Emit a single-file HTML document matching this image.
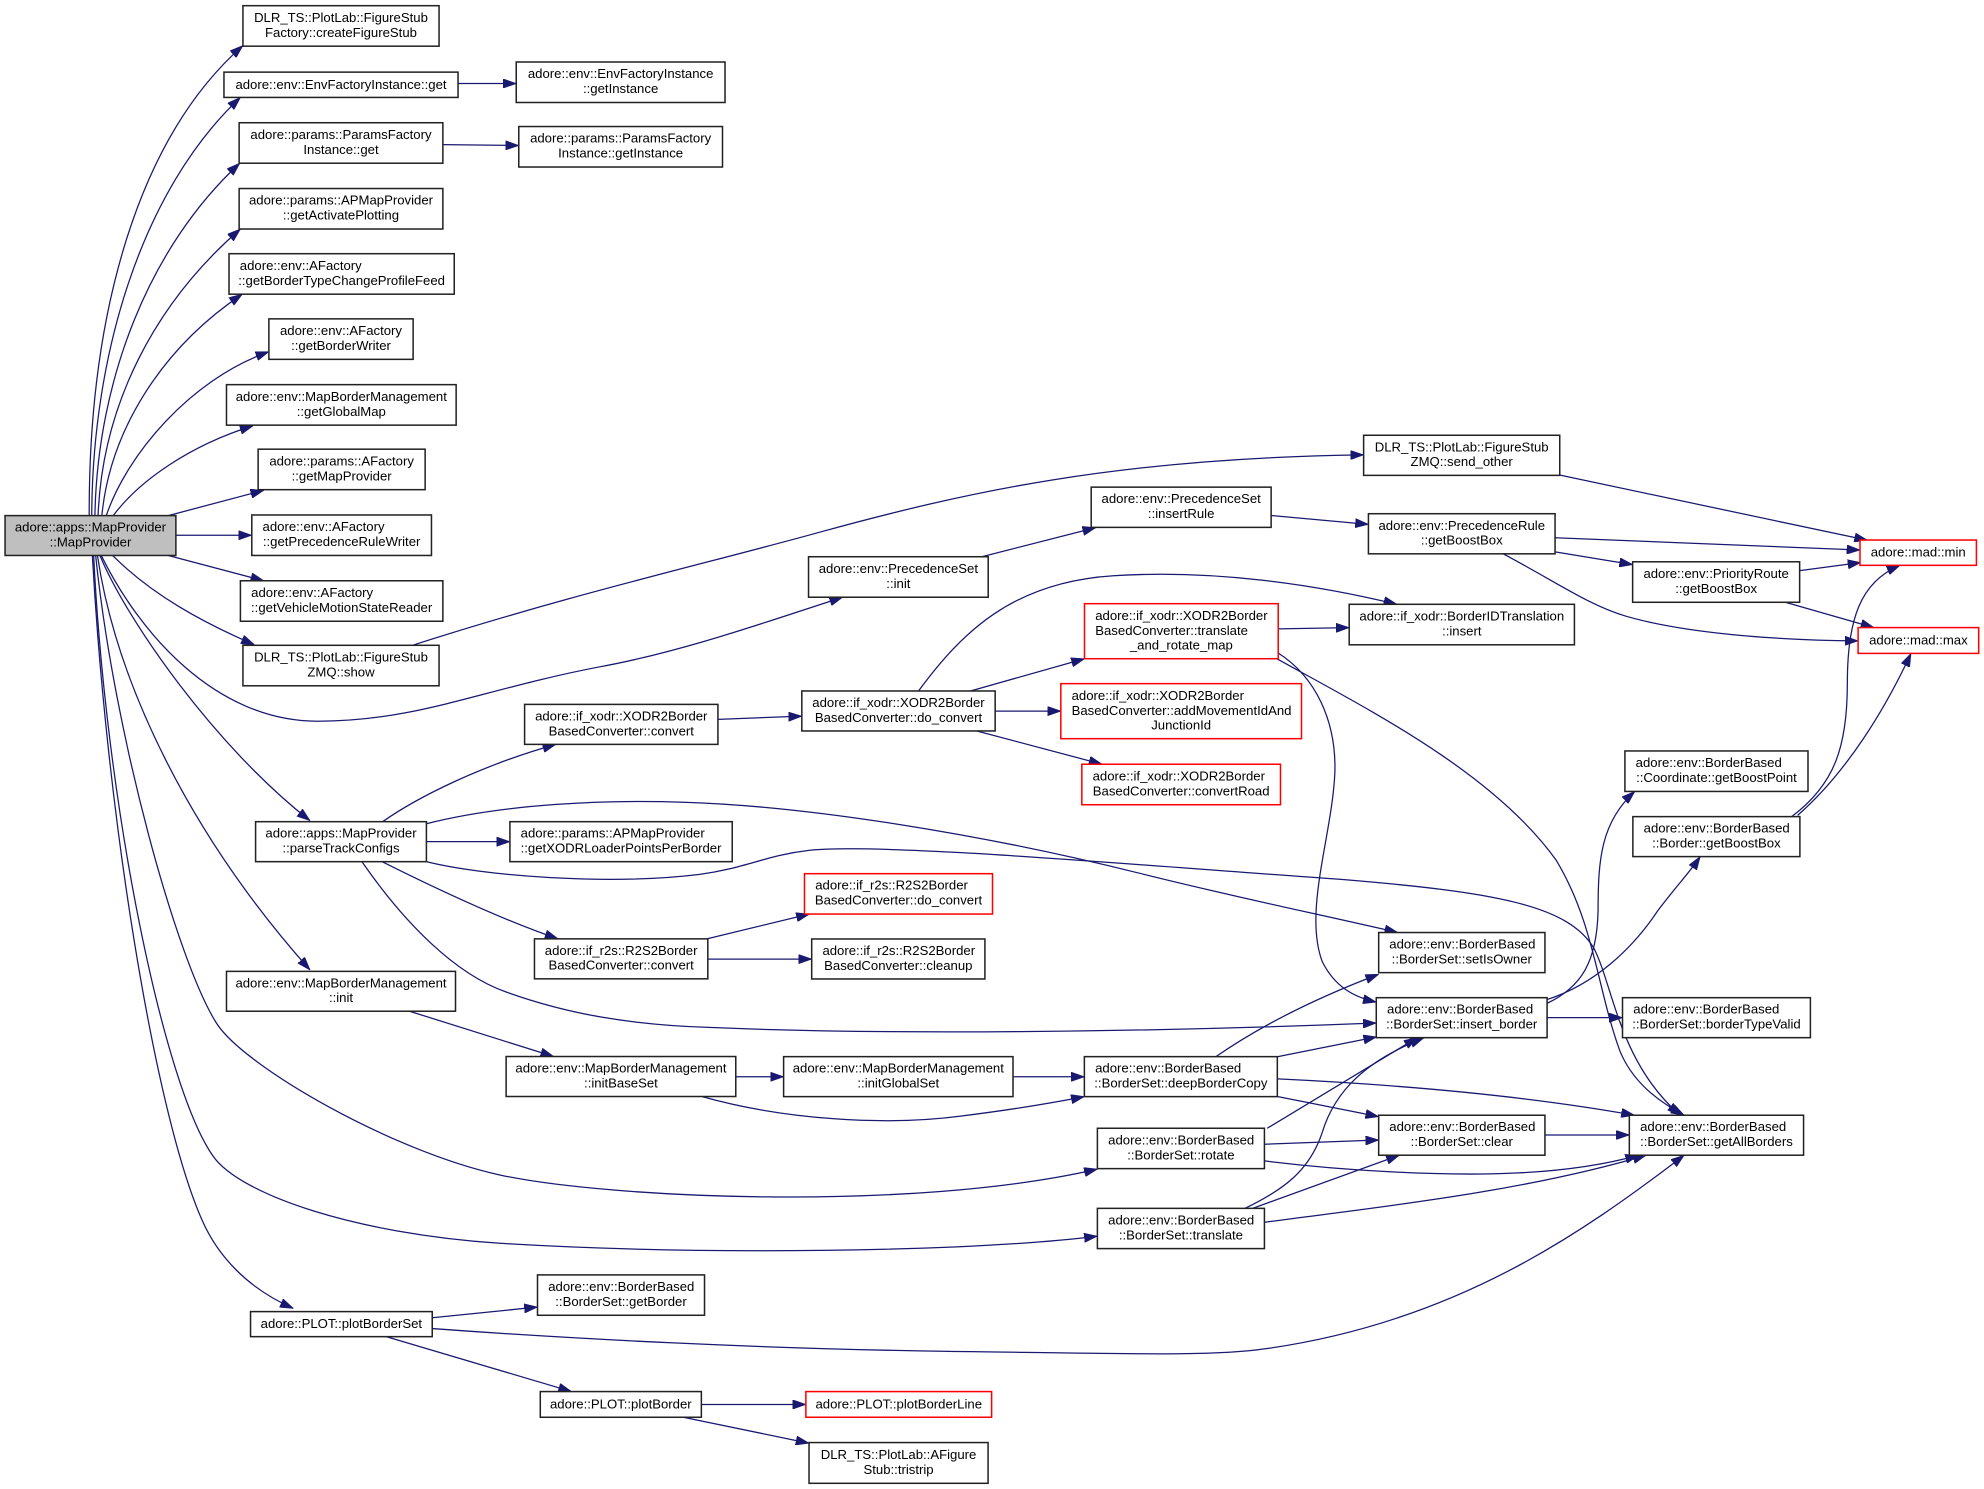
<!DOCTYPE html>
<html>
<head>
<meta charset="utf-8">
<style>
html,body{margin:0;padding:0;background:#fff;}
svg{display:block;}
.n{fill:#fff;stroke:#222;stroke-width:1.2;}
.r{fill:#fff;stroke:#ff0000;stroke-width:1.2;}
.g{fill:#bfbfbf;stroke:#222;stroke-width:1.2;}
text{font-family:"Liberation Sans",Arial,sans-serif;font-size:10.4px;fill:#000;}
.c{text-anchor:middle;}
.l{text-anchor:start;}
.e{fill:none;stroke:#191970;stroke-width:1;marker-end:url(#a);}
</style>
</head>
<body>
<svg width="1984" height="1489" viewBox="0 0 1568 1176.8" preserveAspectRatio="none" xmlns="http://www.w3.org/2000/svg">
<defs>
<marker id="a" viewBox="0 0 10 7" refX="10" refY="3.5" markerWidth="10.5" markerHeight="7.4" markerUnits="userSpaceOnUse" orient="auto">
<path d="M0,0 L10,3.5 L0,7 z" fill="#191970" stroke="#191970" stroke-width="0.5"/>
</marker>
</defs>

<!-- edges -->
<path class="e" d="M70.5,407.5 C70,250 108,110 192,36"/>
<path class="e" d="M72.5,407.5 C73,280 112,150 190,77"/>
<path class="e" d="M75,407.5 C77,300 118,195 189.5,129"/>
<path class="e" d="M77.5,407.5 C81,320 122,240 190,181"/>
<path class="e" d="M80.5,407.5 C87,340 128,275 191.5,232.5"/>
<path class="e" d="M84,407.5 C100,360 150,300 212.5,278"/>
<path class="e" d="M89.5,407.5 C110,380 150,352 200,336.5"/>
<path class="e" d="M133,407.5 L208.5,387.5"/>
<path class="e" d="M139,423 L199,423"/>
<path class="e" d="M133,439 L208.5,459"/>
<path class="e" d="M89,439 C120,470 160,492 201,509.5"/>
<path class="e" d="M80,439 C110,500 170,570 251,570 C330,570 380,545 474,527 C540,515 610,490 666,472"/>
<path class="e" d="M79,439 C100,490 170,590 245,648.6"/>
<path class="e" d="M77,439 C92,540 150,660 245,766.6"/>
<path class="e" d="M75.6,439 C90,580 140,760 171.2,808.8 C193,843 310,910 395,928.6 C480,947 720,958 867.3,924"/>
<path class="e" d="M74,439 C84,640 130,860 168.6,914 C190,944 280,975 395,982.6 C550,992 760,990 867.3,977"/>
<path class="e" d="M73,439 C84,640 122,880 160,965 C172,992 195,1018 231.8,1034"/>

<path class="e" d="M362,66 L408,66"/>
<path class="e" d="M350,114.3 L410,115"/>
<path class="e" d="M326,510 C450,470 560,445 650,420 C760,390 880,362 1077.7,359.5"/>
<path class="e" d="M1233,375.5 L1476,427"/>
<path class="e" d="M776,440 L866,417"/>
<path class="e" d="M1004.6,407.4 L1081.5,414.4"/>
<path class="e" d="M1229,425 L1470,434.7"/>
<path class="e" d="M1229,436.2 L1290.3,446.2"/>
<path class="e" d="M1188,437.7 C1230,460 1255,478 1285,487 C1330,500 1400,506 1468.5,506.5"/>
<path class="e" d="M1422.4,451 L1470.8,444.6"/>
<path class="e" d="M1411,476 L1481,496"/>
<path class="e" d="M726,546 C760,500 800,460 880,455 C960,450 1040,462 1104,477.6"/>
<path class="e" d="M1010.2,497 L1066.3,496"/>
<path class="e" d="M1010,516 C1040,535 1056,570 1055,610 C1053,660 1030,720 1045,760 C1055,780 1070,788 1087.7,792"/>
<path class="e" d="M1008,520 C1080,560 1180,610 1230,680 C1260,730 1262,780 1280,830 C1290,855 1310,870 1331,881.4"/>
<path class="e" d="M767,546.1 L857.1,520.6"/>
<path class="e" d="M786.5,562 L838.4,562"/>
<path class="e" d="M772,577.7 L871,604"/>
<path class="e" d="M567.4,568.5 L633.7,566"/>
<path class="e" d="M302.4,649.4 C330,630 380,605 439.3,588.3"/>
<path class="e" d="M337,665.2 L403,665.2"/>
<path class="e" d="M302,681 C350,705 400,728 441,742"/>
<path class="e" d="M337,651 C400,635 480,632 540,634 C640,637 780,660 900,690 C980,710 1040,722 1104.7,737"/>
<path class="e" d="M337,681 C380,692 480,700 553,691 C590,686 605,676 640,672 C700,666 900,684 1060,695 C1180,705 1240,715 1260,750 C1275,780 1280,840 1328,881.4"/>
<path class="e" d="M286,681 C320,730 360,770 400,784 C450,802 500,810 560,812 C700,818 900,816 1087.7,808.5"/>
<path class="e" d="M323,799 L437.6,835"/>
<path class="e" d="M581.5,851 L619.3,851"/>
<path class="e" d="M555,866.7 C620,885 700,890 760,882 C800,877 830,872 857,866.7"/>
<path class="e" d="M800.6,851 L857,851"/>
<path class="e" d="M961,835.1 C1000,808 1045,787 1089.6,770"/>
<path class="e" d="M1010,835.1 L1088,819.5"/>
<path class="e" d="M1010,866.7 L1089.6,882.5"/>
<path class="e" d="M1010,852.7 C1100,857 1200,865 1291.8,881.4"/>
<path class="e" d="M1001.5,891.7 L1120,820.1"/>
<path class="e" d="M999.3,904.3 L1089.6,901"/>
<path class="e" d="M999.3,917.5 C1060,925 1140,930 1200,927 C1240,925 1270,920 1295,913"/>
<path class="e" d="M984,955 C1015,940 1035,925 1045,895 C1055,862 1080,838 1125,820.5"/>
<path class="e" d="M990,955 L1106,913"/>
<path class="e" d="M999.3,966 C1080,955 1200,943 1301,913"/>
<path class="e" d="M1221,897 L1287.7,897"/>
<path class="e" d="M1222.6,793 C1250,780 1262,760 1263,720 C1263,680 1265,650 1292,625.5"/>
<path class="e" d="M1222.6,790 C1260,778 1290,750 1310,720 C1325,700 1335,690 1343.7,677"/>
<path class="e" d="M1222.6,804.3 L1282.3,804.3"/>
<path class="e" d="M1416,645.4 C1450,620 1460,590 1460,540 C1460,490 1470,460 1501.6,446.8"/>
<path class="e" d="M1420.7,644.4 C1460,610 1490,560 1510.3,516.4"/>
<path class="e" d="M558.6,742 L639.7,722.4"/>
<path class="e" d="M559.4,758 L641.5,758"/>
<path class="e" d="M341.6,1041.5 L424.8,1033"/>
<path class="e" d="M341.6,1050 C450,1058 600,1066 750,1068 C900,1070 960,1072 1000,1066 C1150,1045 1250,975 1331,913"/>
<path class="e" d="M305.2,1056.4 L451.7,1099.8"/>
<path class="e" d="M554.3,1110 L636.9,1110"/>
<path class="e" d="M540,1120.1 L639.4,1140.6"/>

<!-- nodes -->
<rect class="n" x="192" y="4.5" width="155" height="32"/>
<text class="c" x="269.5" y="17.3">DLR_TS::PlotLab::FigureStub</text>
<text class="c" x="269.5" y="29.1">Factory::createFigureStub</text>

<rect class="n" x="177" y="57" width="185" height="20"/>
<text class="c" x="269.5" y="70.2">adore::env::EnvFactoryInstance::get</text>

<rect class="n" x="408" y="49" width="165" height="32"/>
<text class="c" x="490.5" y="61.8">adore::env::EnvFactoryInstance</text>
<text class="c" x="490.5" y="73.6">::getInstance</text>

<rect class="n" x="189" y="97" width="161" height="32"/>
<text class="c" x="269.5" y="109.8">adore::params::ParamsFactory</text>
<text class="c" x="269.5" y="121.6">Instance::get</text>

<rect class="n" x="410" y="100" width="161" height="32"/>
<text class="c" x="490.5" y="112.8">adore::params::ParamsFactory</text>
<text class="c" x="490.5" y="124.6">Instance::getInstance</text>

<rect class="n" x="189" y="149" width="161" height="32"/>
<text class="c" x="269.5" y="161.8">adore::params::APMapProvider</text>
<text class="c" x="269.5" y="173.6">::getActivatePlotting</text>

<rect class="n" x="181" y="200.5" width="178" height="32"/>
<text class="l" x="189.5" y="213.3">adore::env::AFactory</text>
<text class="c" x="270" y="225.1">::getBorderTypeChangeProfileFeed</text>

<rect class="n" x="212.5" y="252" width="114" height="32"/>
<text class="c" x="269.5" y="264.8">adore::env::AFactory</text>
<text class="c" x="269.5" y="276.6">::getBorderWriter</text>

<rect class="n" x="179" y="304" width="181.5" height="32"/>
<text class="c" x="269.75" y="316.8">adore::env::MapBorderManagement</text>
<text class="c" x="269.75" y="328.6">::getGlobalMap</text>

<rect class="n" x="204" y="355" width="132" height="32"/>
<text class="c" x="270" y="367.8">adore::params::AFactory</text>
<text class="c" x="270" y="379.6">::getMapProvider</text>

<rect class="g" x="4" y="407.5" width="135" height="31.5"/>
<text class="c" x="71.5" y="420">adore::apps::MapProvider</text>
<text class="c" x="71.5" y="431.9">::MapProvider</text>

<rect class="n" x="199" y="407" width="142" height="32"/>
<text class="l" x="207.5" y="419.8">adore::env::AFactory</text>
<text class="c" x="270" y="431.6">::getPrecedenceRuleWriter</text>

<rect class="n" x="190" y="459" width="160" height="32"/>
<text class="l" x="198.5" y="471.8">adore::env::AFactory</text>
<text class="c" x="270" y="483.6">::getVehicleMotionStateReader</text>

<rect class="n" x="192" y="510" width="155" height="32"/>
<text class="c" x="269.5" y="522.8">DLR_TS::PlotLab::FigureStub</text>
<text class="c" x="269.5" y="534.6">ZMQ::show</text>

<rect class="n" x="414.6" y="556.7" width="152.8" height="31.6"/>
<text class="c" x="491" y="569.3">adore::if_xodr::XODR2Border</text>
<text class="c" x="491" y="581.1">BasedConverter::convert</text>

<rect class="n" x="202" y="649.4" width="135" height="31.6"/>
<text class="c" x="269.5" y="662">adore::apps::MapProvider</text>
<text class="c" x="269.5" y="673.8">::parseTrackConfigs</text>

<rect class="n" x="403" y="649.4" width="175.7" height="31.6"/>
<text class="l" x="411.5" y="662">adore::params::APMapProvider</text>
<text class="c" x="490.85" y="673.8">::getXODRLoaderPointsPerBorder</text>

<rect class="n" x="422.4" y="742" width="137" height="31.6"/>
<text class="c" x="490.9" y="754.6">adore::if_r2s::R2S2Border</text>
<text class="c" x="490.9" y="766.4">BasedConverter::convert</text>

<rect class="n" x="179" y="767.7" width="181" height="31.5"/>
<text class="c" x="269.5" y="780.3">adore::env::MapBorderManagement</text>
<text class="c" x="269.5" y="792.1">::init</text>

<rect class="n" x="400" y="835" width="181.5" height="31.6"/>
<text class="c" x="490.75" y="847.6">adore::env::MapBorderManagement</text>
<text class="c" x="490.75" y="859.4">::initBaseSet</text>

<rect class="n" x="198" y="1036.6" width="143.6" height="19.8"/>
<text class="c" x="269.8" y="1049.7">adore::PLOT::plotBorderSet</text>

<rect class="n" x="424.8" y="1007.6" width="132" height="31.9"/>
<text class="l" x="433.3" y="1020.4">adore::env::BorderBased</text>
<text class="c" x="490.8" y="1032.2">::BorderSet::getBorder</text>

<rect class="n" x="427" y="1099.8" width="127.3" height="20.3"/>
<text class="c" x="490.65" y="1113.2">adore::PLOT::plotBorder</text>

<rect class="n" x="862.4" y="385" width="142.2" height="31.8"/>
<text class="c" x="933.5" y="397.7">adore::env::PrecedenceSet</text>
<text class="c" x="933.5" y="409.5">::insertRule</text>

<rect class="n" x="639" y="440" width="142" height="32"/>
<text class="c" x="710" y="452.8">adore::env::PrecedenceSet</text>
<text class="c" x="710" y="464.6">::init</text>

<rect class="n" x="1077.7" y="344" width="155" height="31.7"/>
<text class="c" x="1155.2" y="356.7">DLR_TS::PlotLab::FigureStub</text>
<text class="c" x="1155.2" y="368.5">ZMQ::send_other</text>

<rect class="n" x="1081.5" y="406" width="147.5" height="31.7"/>
<text class="c" x="1155.25" y="418.7">adore::env::PrecedenceRule</text>
<text class="c" x="1155.25" y="430.5">::getBoostBox</text>

<rect class="r" x="1470" y="426.8" width="92" height="20"/>
<text class="c" x="1516" y="440">adore::mad::min</text>

<rect class="n" x="1290.3" y="444" width="132" height="32"/>
<text class="c" x="1356.3" y="456.8">adore::env::PriorityRoute</text>
<text class="c" x="1356.3" y="468.6">::getBoostBox</text>

<rect class="n" x="1066.3" y="477.6" width="178" height="32"/>
<text class="c" x="1155.3" y="490.4">adore::if_xodr::BorderIDTranslation</text>
<text class="c" x="1155.3" y="502.2">::insert</text>

<rect class="r" x="1468.5" y="496" width="95.3" height="20.4"/>
<text class="c" x="1516.15" y="509.4">adore::mad::max</text>

<rect class="n" x="1284.2" y="593.5" width="144.7" height="32"/>
<text class="l" x="1292.7" y="606.3">adore::env::BorderBased</text>
<text class="c" x="1356.55" y="618.1">::Coordinate::getBoostPoint</text>

<rect class="n" x="1290.5" y="645.4" width="132" height="31.6"/>
<text class="l" x="1299" y="658">adore::env::BorderBased</text>
<text class="c" x="1356.5" y="669.8">::Border::getBoostBox</text>

<rect class="n" x="1089.6" y="737" width="131.4" height="31.7"/>
<text class="l" x="1098" y="749.7">adore::env::BorderBased</text>
<text class="c" x="1155.3" y="761.5">::BorderSet::setIsOwner</text>

<rect class="n" x="1087.7" y="788.5" width="135" height="31.6"/>
<text class="l" x="1096.2" y="801.1">adore::env::BorderBased</text>
<text class="c" x="1155.2" y="812.9">::BorderSet::insert_border</text>

<rect class="n" x="1282.3" y="788.5" width="148.5" height="31.6"/>
<text class="l" x="1290.8" y="801.1">adore::env::BorderBased</text>
<text class="c" x="1356.55" y="812.9">::BorderSet::borderTypeValid</text>

<rect class="n" x="1089.6" y="881.4" width="131.4" height="31.6"/>
<text class="l" x="1098" y="894">adore::env::BorderBased</text>
<text class="c" x="1155.3" y="905.8">::BorderSet::clear</text>

<rect class="n" x="1287.7" y="881.4" width="137.7" height="31.6"/>
<text class="l" x="1296.2" y="894">adore::env::BorderBased</text>
<text class="c" x="1356.55" y="905.8">::BorderSet::getAllBorders</text>

<rect class="n" x="633.7" y="546.1" width="152.8" height="31.6"/>
<text class="c" x="710.1" y="558.7">adore::if_xodr::XODR2Border</text>
<text class="c" x="710.1" y="570.5">BasedConverter::do_convert</text>

<rect class="r" x="857.1" y="477.1" width="153.1" height="43.5"/>
<text class="l" x="865.6" y="490">adore::if_xodr::XODR2Border</text>
<text class="l" x="865.6" y="501.9">BasedConverter::translate</text>
<text class="c" x="933.65" y="513.5">_and_rotate_map</text>

<rect class="r" x="838.4" y="540.3" width="190.2" height="43.5"/>
<text class="l" x="846.9" y="553.2">adore::if_xodr::XODR2Border</text>
<text class="l" x="846.9" y="565">BasedConverter::addMovementIdAnd</text>
<text class="c" x="933.5" y="576.6">JunctionId</text>

<rect class="r" x="855" y="604" width="157" height="32"/>
<text class="l" x="863.5" y="616.8">adore::if_xodr::XODR2Border</text>
<text class="c" x="933.5" y="628.6">BasedConverter::convertRoad</text>

<rect class="r" x="635.8" y="690.5" width="148.6" height="31.9"/>
<text class="l" x="644.3" y="703.2">adore::if_r2s::R2S2Border</text>
<text class="c" x="710.1" y="715">BasedConverter::do_convert</text>

<rect class="n" x="641.5" y="742.1" width="136.9" height="31.6"/>
<text class="l" x="650" y="754.7">adore::if_r2s::R2S2Border</text>
<text class="c" x="709.95" y="766.5">BasedConverter::cleanup</text>

<rect class="n" x="619.3" y="835.1" width="181.3" height="31.6"/>
<text class="c" x="709.95" y="847.7">adore::env::MapBorderManagement</text>
<text class="c" x="709.95" y="859.5">::initGlobalSet</text>

<rect class="n" x="857" y="835.1" width="152.5" height="31.6"/>
<text class="l" x="865.5" y="847.7">adore::env::BorderBased</text>
<text class="c" x="933.25" y="859.5">::BorderSet::deepBorderCopy</text>

<rect class="n" x="867.3" y="891.7" width="132" height="31.9"/>
<text class="l" x="875.8" y="904.5">adore::env::BorderBased</text>
<text class="c" x="933.3" y="916.3">::BorderSet::rotate</text>

<rect class="n" x="867.3" y="955" width="132" height="31.8"/>
<text class="l" x="875.8" y="967.7">adore::env::BorderBased</text>
<text class="c" x="933.3" y="979.5">::BorderSet::translate</text>

<rect class="r" x="636.9" y="1099.8" width="146.8" height="20.3"/>
<text class="c" x="710.3" y="1113.2">adore::PLOT::plotBorderLine</text>

<rect class="n" x="639.4" y="1140.1" width="141.5" height="32.2"/>
<text class="c" x="710.15" y="1153">DLR_TS::PlotLab::AFigure</text>
<text class="c" x="710.15" y="1164.8">Stub::tristrip</text>
</svg>
</body>
</html>
